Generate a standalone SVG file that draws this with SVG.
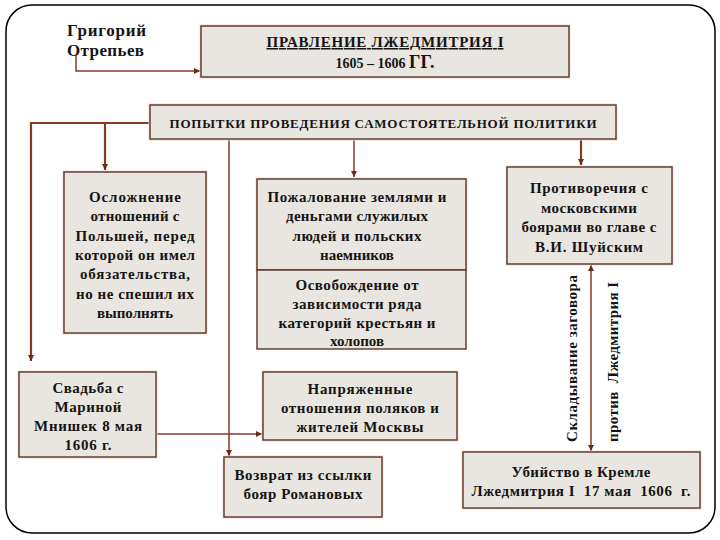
<svg xmlns="http://www.w3.org/2000/svg" width="720" height="540" viewBox="0 0 720 540">
<style>
.box{fill:#e9e5e0;stroke:#5a3426;stroke-width:1.4}
.glow{fill:none;stroke:#f3dcd4;stroke-width:3}
.t{font-family:"Liberation Serif","Times New Roman",serif;font-weight:bold;font-size:15px;fill:#141414;text-anchor:middle}
.c{fill:none;stroke:#8a3a22;stroke-width:1.5}
.c2{fill:none;stroke:#8a3a22;stroke-width:2.2}
</style>
<defs>
<marker id="ah" markerUnits="userSpaceOnUse" markerWidth="7" markerHeight="7" refX="6" refY="3" orient="auto">
<path d="M0,0 L6,3 L0,6 z" fill="#6b2a18"/>
</marker>
<marker id="as" markerUnits="userSpaceOnUse" markerWidth="7" markerHeight="7" refX="0" refY="3" orient="auto">
<path d="M6,0 L0,3 L6,6 z" fill="#6b2a18"/>
</marker>
</defs>
<rect width="720" height="540" fill="#ffffff"/>
<rect x="6" y="5" width="709" height="528" rx="26" ry="26" fill="#ffffff" stroke="#000000" stroke-width="1.5"/>

<g id="connectors">
<path class="c" d="M76,55 V71 H200" marker-end="url(#ah)"/>
<path class="c2" d="M150,123 H31 V361" marker-end="url(#ah)"/>
<path class="c2" d="M105,123 V170" marker-end="url(#ah)"/>
<path class="c" d="M354,139 V177" marker-end="url(#ah)"/>
<path class="c" d="M229,139 V456" marker-end="url(#ah)"/>
<path class="c2" d="M581,139 V165" marker-end="url(#ah)"/>
<path class="c" d="M591,265 V451" marker-start="url(#as)" marker-end="url(#ah)"/>
<path class="c" d="M156,434 H262" marker-end="url(#ah)"/>
</g>

<g id="otrepiev">
<text class="t" x="67" y="36" style="text-anchor:start;font-size:17px" textLength="79">Григорий</text>
<text class="t" x="67" y="56" style="text-anchor:start;font-size:17px" textLength="77">Отрепьев</text>
</g>

<g id="title">
<rect class="glow" x="201" y="26" width="368" height="51"/>
<rect class="box" x="201" y="26" width="368" height="51"/>
<text class="t" x="385" y="47" style="font-size:15px;text-decoration:underline" textLength="237">ПРАВЛЕНИЕ ЛЖЕДМИТРИЯ I</text>
<text class="t" x="385" y="68" style="font-size:14px"><tspan>1605 – 1606 </tspan><tspan style="font-size:18px">ГГ.</tspan></text>
</g>

<g id="popytki">
<rect class="glow" x="150" y="105" width="466" height="34"/>
<rect class="box" x="150" y="105" width="466" height="34"/>
<text class="t" x="383" y="128" style="font-size:13px" textLength="427">ПОПЫТКИ ПРОВЕДЕНИЯ САМОСТОЯТЕЛЬНОЙ ПОЛИТИКИ</text>
</g>

<g id="oslozhnenie">
<rect class="glow" x="64" y="172" width="142" height="161"/>
<rect class="box" x="64" y="172" width="142" height="161"/>
<text class="t" x="135" y="202" textLength="92">Осложнение</text>
<text class="t" x="135" y="221" textLength="89">отношений с</text>
<text class="t" x="135" y="241" textLength="119">Польшей, перед</text>
<text class="t" x="135" y="260" textLength="120">которой он имел</text>
<text class="t" x="135" y="279" textLength="110">обязательства,</text>
<text class="t" x="135" y="299" textLength="118">но не спешил их</text>
<text class="t" x="135" y="318">выполнять</text>
</g>

<g id="pozhalovanie">
<rect class="glow" x="257" y="179" width="209" height="91"/>
<rect class="box" x="257" y="179" width="209" height="91"/>
<text class="t" x="357" y="202" textLength="179">Пожалование землями и</text>
<text class="t" x="357" y="221" textLength="142">деньгами служилых</text>
<text class="t" x="357" y="241" textLength="129">людей и польских</text>
<text class="t" x="357" y="260">наемников</text>
</g>

<g id="osvobozhdenie">
<rect class="box" x="257" y="270" width="209" height="79"/>
<text class="t" x="357" y="290" textLength="123">Освобождение от</text>
<text class="t" x="357" y="309" textLength="129">зависимости ряда</text>
<text class="t" x="357" y="328" textLength="157">категорий крестьян и</text>
<text class="t" x="357" y="346">холопов</text>
</g>

<g id="protivorechiya">
<rect class="glow" x="507" y="167" width="165" height="97"/>
<rect class="box" x="507" y="167" width="165" height="97"/>
<text class="t" x="589" y="193" textLength="118">Противоречия с</text>
<text class="t" x="589" y="213" textLength="96">московскими</text>
<text class="t" x="589" y="232" textLength="135">боярами во главе с</text>
<text class="t" x="589" y="252" textLength="108">В.И. Шуйским</text>
</g>

<g id="zagovor">
<text class="t" transform="translate(577,442) rotate(-90)" x="0" y="0" style="text-anchor:start" textLength="167">Складывание заговора</text>
<text class="t" transform="translate(618,442) rotate(-90)" x="0" y="0" style="text-anchor:start;white-space:pre" textLength="160">против  Лжедмитрия I</text>
</g>

<g id="svadba">
<rect class="glow" x="19" y="372" width="137" height="85"/>
<rect class="box" x="19" y="372" width="137" height="85"/>
<text class="t" x="88" y="393" textLength="71">Свадьба с</text>
<text class="t" x="88" y="412" textLength="67">Мариной</text>
<text class="t" x="88" y="431" textLength="108">Мнишек 8 мая</text>
<text class="t" x="88" y="450" textLength="47">1606 г.</text>
</g>

<g id="napryazhennye">
<rect class="glow" x="263" y="372" width="194" height="68"/>
<rect class="box" x="263" y="372" width="194" height="68"/>
<text class="t" x="360" y="394" textLength="105">Напряженные</text>
<text class="t" x="360" y="413" textLength="158">отношения поляков и</text>
<text class="t" x="360" y="432" textLength="127">жителей Москвы</text>
</g>

<g id="vozvrat">
<rect class="glow" x="224" y="457" width="158" height="60"/>
<rect class="box" x="224" y="457" width="158" height="60"/>
<text class="t" x="303" y="480" textLength="137">Возврат из ссылки</text>
<text class="t" x="303" y="499" textLength="119">бояр Романовых</text>
</g>

<g id="ubiystvo">
<rect class="glow" x="463" y="452" width="237" height="56"/>
<rect class="box" x="463" y="452" width="237" height="56"/>
<text class="t" x="581" y="477" textLength="139">Убийство в Кремле</text>
<text class="t" x="581" y="496" style="white-space:pre" textLength="219">Лжедмитрия I  17 мая  1606  г.</text>
</g>
</svg>
